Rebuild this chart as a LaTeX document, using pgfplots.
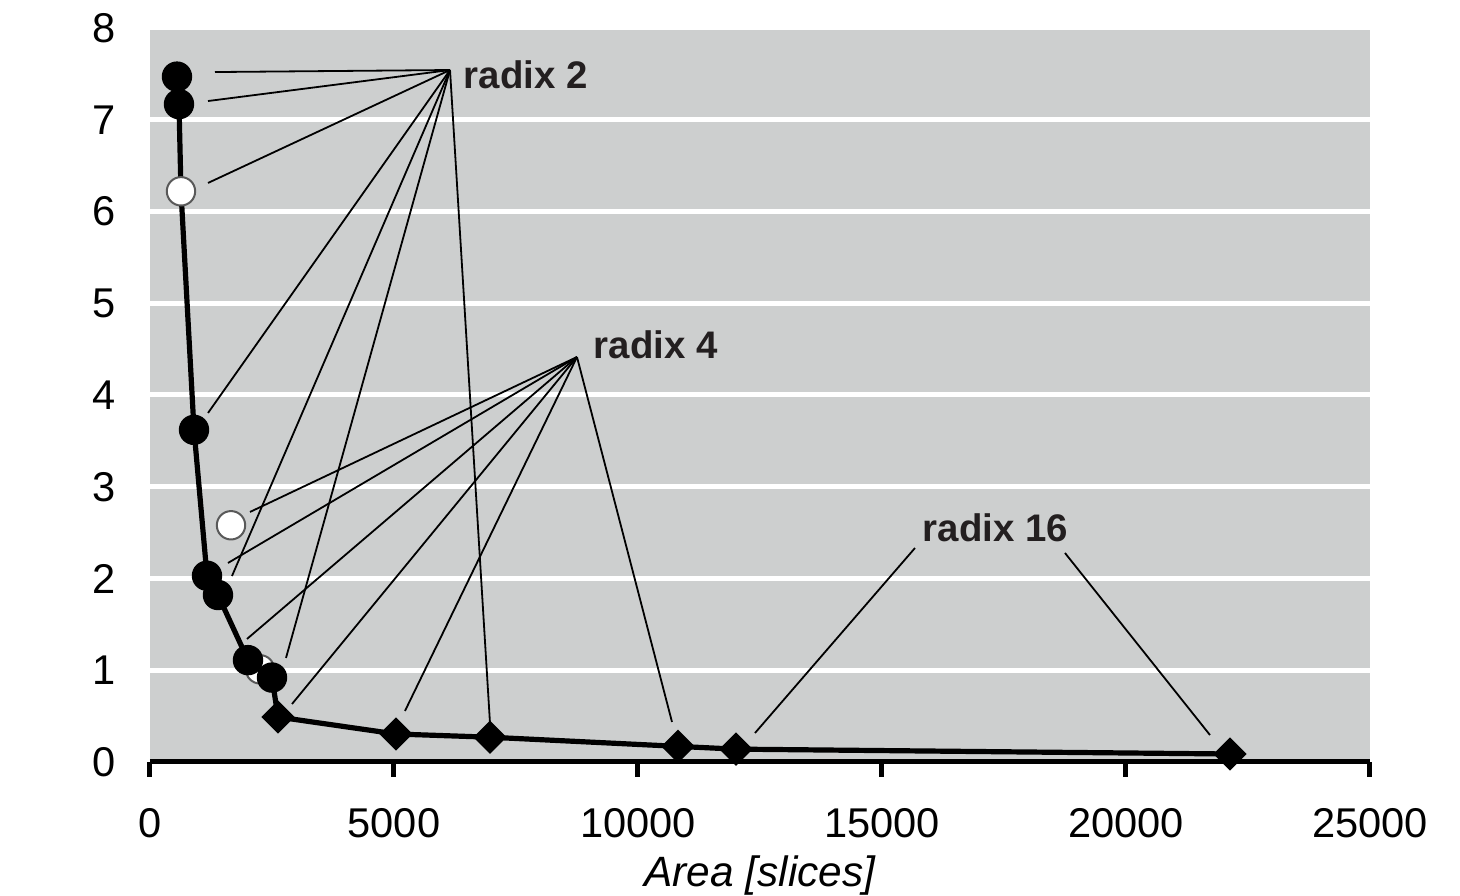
\documentclass[border=0pt]{standalone}
\usepackage{fontspec}
\setmainfont{Liberation Sans}
\usepackage{pgfplots}
\pgfplotsset{compat=1.18}
\definecolor{bg}{RGB}{205,207,207}
\definecolor{lbl}{RGB}{35,31,32}
\begin{document}
\begin{tikzpicture}
\useasboundingbox (-37.5pt,-33.5pt) rectangle (327.5pt,190.5pt);
\begin{axis}[
  at={(0,0)}, anchor=south west,
  scale only axis, width=305pt, height=183.5pt,
  xmin=0, xmax=25000, ymin=0, ymax=8,
  clip=false,
  axis background/.style={fill=bg, draw=none},
  axis x line*=bottom, axis y line*=left,
  x axis line style={black, line width=1.25pt, -},
  y axis line style={draw=none},
  xtick={0,5000,...,25000}, ytick={0,1,...,8},
  tick align=outside, major tick length=3.75pt,
  xtick style={black, line width=1.25pt},
  ytick style={draw=none},
  ymajorgrids, grid style={white, line width=1.25pt},
  scaled x ticks=false,
  /pgf/number format/1000 sep={},
  /pgf/number format/assume math mode=true,
  tick label style={font=\fontsize{10.4}{12}\selectfont, black},
  xticklabel style={yshift=-4.3pt},
  yticklabel style={xshift=-1.4pt},
  xlabel={\itshape Area [slices]},
  xlabel style={font=\fontsize{10.6}{12}\selectfont, at={(axis description cs:0.5,0)}, anchor=center, yshift=-28.3pt},
]
% Pareto curve
\addplot[black, line width=1.3pt, mark=none] coordinates {
 (553,7.47) (594,7.17) (635,6.22) (902,3.62) (1168,2.03) (1393,1.82) (2008,1.11) (2254,1.01) (2500,0.92) (2623,0.49) (5041,0.305) (6967,0.27) (10820,0.17) (12008,0.14) (22131,0.087)};
% radix 2 leader lines
\addplot[black, line width=0.45pt, forget plot] coordinates {(6148,7.542) (1332,7.520)};
\addplot[black, line width=0.45pt, forget plot] coordinates {(6148,7.542) (1189,7.204)};
\addplot[black, line width=0.45pt, forget plot] coordinates {(6148,7.542) (1189,6.311)};
\addplot[black, line width=0.45pt, forget plot] coordinates {(6148,7.542) (1189,3.804)};
\addplot[black, line width=0.45pt, forget plot] coordinates {(6148,7.542) (1680,2.027)};
\addplot[black, line width=0.45pt, forget plot] coordinates {(6148,7.542) (2787,1.134)};
\addplot[black, line width=0.45pt, forget plot] coordinates {(6148,7.542) (6967,0.425)};
% radix 4 leader lines
\addplot[black, line width=0.45pt, forget plot] coordinates {(8750,4.414) (2049,2.725)};
\addplot[black, line width=0.45pt, forget plot] coordinates {(8750,4.414) (1598,2.169)};
\addplot[black, line width=0.45pt, forget plot] coordinates {(8750,4.414) (1988,1.341)};
\addplot[black, line width=0.45pt, forget plot] coordinates {(8750,4.414) (2910,0.632)};
\addplot[black, line width=0.45pt, forget plot] coordinates {(8750,4.414) (5225,0.556)};
\addplot[black, line width=0.45pt, forget plot] coordinates {(8750,4.414) (10697,0.436)};
% radix 16 leader lines
\addplot[black, line width=0.45pt, forget plot] coordinates {(15676,2.332) (12398,0.316)};
\addplot[black, line width=0.45pt, forget plot] coordinates {(18750,2.278) (21721,0.294)};
% white circles
\addplot[only marks, mark=*, mark size=3.55pt, mark options={fill=white, draw=black!65, line width=0.5pt}] coordinates {
 (635,6.22) (1660,2.58) (2254,1.01)};
% black circles
\addplot[only marks, mark=*, mark size=3.6pt, mark options={fill=black, draw=black, line width=0.4pt}] coordinates {
 (553,7.47) (594,7.17) (902,3.62) (1168,2.03) (1393,1.82) (2008,1.11) (2500,0.92)};
% diamonds
\addplot[only marks, mark=square*, mark size=2.75pt, mark options={rotate=45, fill=black, draw=black}] coordinates {
 (2623,0.49) (5041,0.305) (6967,0.27) (10820,0.17) (12008,0.14) (22131,0.087)};
% labels
\node[anchor=west, inner sep=0pt, text=lbl, font=\bfseries\fontsize{9.6}{11}\selectfont] at (axis cs:6414,7.49) {radix 2};
\node[anchor=west, inner sep=0pt, text=lbl, font=\bfseries\fontsize{9.6}{11}\selectfont] at (axis cs:9078,4.545) {radix 4};
\node[anchor=west, inner sep=0pt, text=lbl, font=\bfseries\fontsize{9.6}{11}\selectfont] at (axis cs:15820,2.556) {radix 16};
\end{axis}
\end{tikzpicture}
\end{document}
